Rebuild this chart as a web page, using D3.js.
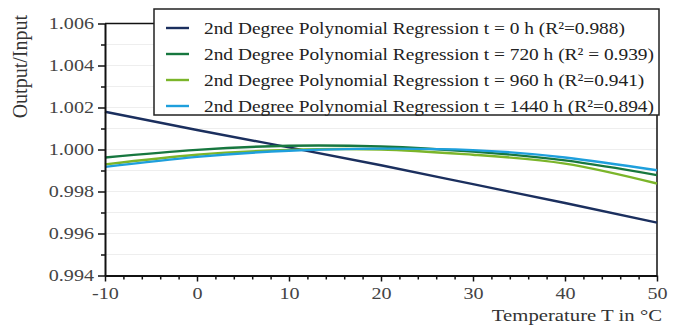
<!DOCTYPE html>
<html>
<head>
<meta charset="utf-8">
<script src="https://cdn.jsdelivr.net/npm/d3@7"></script>
<style>
  body { margin: 0; background: #fff; }
  text { font-family: "Liberation Serif", "Times New Roman", serif; }
</style>
</head>
<body>
<svg id="chart" width="680" height="327"></svg>
<script>
const temps = [-10, 0, 10, 20, 30, 40, 50];
const fit0h    = [1.00180, 1.00093, 1.00010, 0.99925, 0.99835, 0.99745, 0.99652];
const fit720h  = [0.99962, 0.99998, 1.00018, 1.00014, 0.99990, 0.99948, 0.99878];
const fit960h  = [0.99929, 0.99975, 0.99998, 1.00000, 0.99975, 0.99933, 0.99838];
const fit1440h = [0.99917, 0.99965, 0.99994, 1.00004, 0.99997, 0.99962, 0.99901];

const legendLabels = [
  "2nd Degree Polynomial Regression t = 0 h (R\u00b2=0.988)",
  "2nd Degree Polynomial Regression t = 720 h (R\u00b2 = 0.939)",
  "2nd Degree Polynomial Regression t = 960 h (R\u00b2=0.941)",
  "2nd Degree Polynomial Regression t = 1440 h (R\u00b2=0.894)"
];
const colors = ["#1b2f5e", "#17773f", "#7bb52a", "#1e9fdc"];

const xTicks = [-10, 0, 10, 20, 30, 40, 50];
const xMinor = d3.range(-8, 50, 2).filter(v => v % 10 !== 0);
const yTicks = [0.994, 0.996, 0.998, 1.000, 1.002, 1.004, 1.006];
const yMinor = [0.995, 0.997, 0.999, 1.001, 1.003, 1.005];
const yGrid = [0.995, 0.996, 0.997, 0.998, 0.999, 1.000, 1.001, 1.002, 1.003, 1.004, 1.005];

const SX = 1.22; // text in the picture is stretched horizontally
const SERIF = '"Liberation Serif", "Times New Roman", serif';

const svg = d3.select("#chart");
const margin = { top: 23.5, right: 23, bottom: 51.5, left: 105 };
const width = 680 - margin.left - margin.right;
const height = 327 - margin.top - margin.bottom;

const x = d3.scaleLinear().domain([-10, 50]).range([0, width]);
const y = d3.scaleLinear().domain([0.994, 1.006]).range([height, 0]);

const g = svg.append("g")
  .attr("transform", `translate(${margin.left},${margin.top})`);

// light horizontal grid
g.selectAll(".grid")
  .data(yGrid)
  .enter()
  .append("line")
  .attr("x1", 0)
  .attr("x2", width)
  .attr("y1", d => y(d))
  .attr("y2", d => y(d))
  .attr("stroke", "#eeeeee")
  .attr("stroke-width", 1);

// frame top and right
g.append("path")
  .attr("d", `M0,0H${width}V${height}`)
  .attr("fill", "none")
  .attr("stroke", "#111")
  .attr("stroke-width", 1.5);

// curves
const series = [fit0h, fit720h, fit960h, fit1440h];
const line = d3.line()
  .x((d, i) => x(temps[i]))
  .y(d => y(d))
  .curve(d3.curveNatural);

g.selectAll(".curve")
  .data(series)
  .enter()
  .append("path")
  .attr("d", d => line(d))
  .attr("fill", "none")
  .attr("stroke", (d, i) => colors[i])
  .attr("stroke-width", 2.4);

// minor ticks
g.append("g")
  .attr("transform", `translate(0,${height})`)
  .call(d3.axisBottom(x).tickValues(xMinor).tickSize(4).tickFormat(""))
  .call(a => a.select(".domain").remove());
g.append("g")
  .call(d3.axisLeft(y).tickValues(yMinor).tickSize(4).tickFormat(""))
  .call(a => a.select(".domain").remove());

// main axes
const xAxis = g.append("g")
  .attr("transform", `translate(0,${height})`)
  .call(d3.axisBottom(x).tickValues(xTicks).tickSize(6).tickSizeOuter(0).tickPadding(6)
    .tickFormat(d => String(d)));
const yAxis = g.append("g")
  .call(d3.axisLeft(y).tickValues(yTicks).tickSize(7).tickSizeOuter(0).tickPadding(2)
    .tickFormat(d3.format(".3f")));

[xAxis, yAxis].forEach(a => {
  a.attr("font-family", null);
  a.select(".domain").attr("stroke", "#111").attr("stroke-width", 2);
  a.selectAll(".tick text")
    .attr("fill", "#444")
    .style("font-family", SERIF)
    .style("font-size", "16.5px")
    .attr("transform", `scale(${SX},1)`);
});
svg.selectAll("g.tick line").attr("stroke", "#111").attr("stroke-width", 1.5);

// axis titles
svg.append("text")
  .attr("transform", `translate(662,321) scale(${SX},1)`)
  .attr("text-anchor", "end")
  .attr("fill", "#333")
  .style("font-size", "17px")
  .text("Temperature T in \u00b0C");

svg.append("text")
  .attr("transform", "translate(27,15) rotate(-90)")
  .attr("text-anchor", "end")
  .attr("fill", "#333")
  .style("font-size", "20px")
  .text("Output/Input");

// legend
const legend = svg.append("g").attr("transform", "translate(154,9)");
legend.append("rect")
  .attr("width", 505)
  .attr("height", 106)
  .attr("fill", "#fff")
  .attr("stroke", "#222")
  .attr("stroke-width", 1.5);

const rows = legend.selectAll(".row")
  .data(legendLabels)
  .enter()
  .append("g")
  .attr("transform", (d, i) => `translate(0,${19 + i * 26})`);

rows.append("line")
  .attr("x1", 12)
  .attr("x2", 35)
  .attr("stroke", (d, i) => colors[i])
  .attr("stroke-width", 2.4);

rows.append("text")
  .attr("transform", `translate(50,5.5) scale(1.14,1)`)
  .attr("fill", "#222")
  .style("font-size", "17px")
  .text(d => d);
</script>
</body>
</html>
